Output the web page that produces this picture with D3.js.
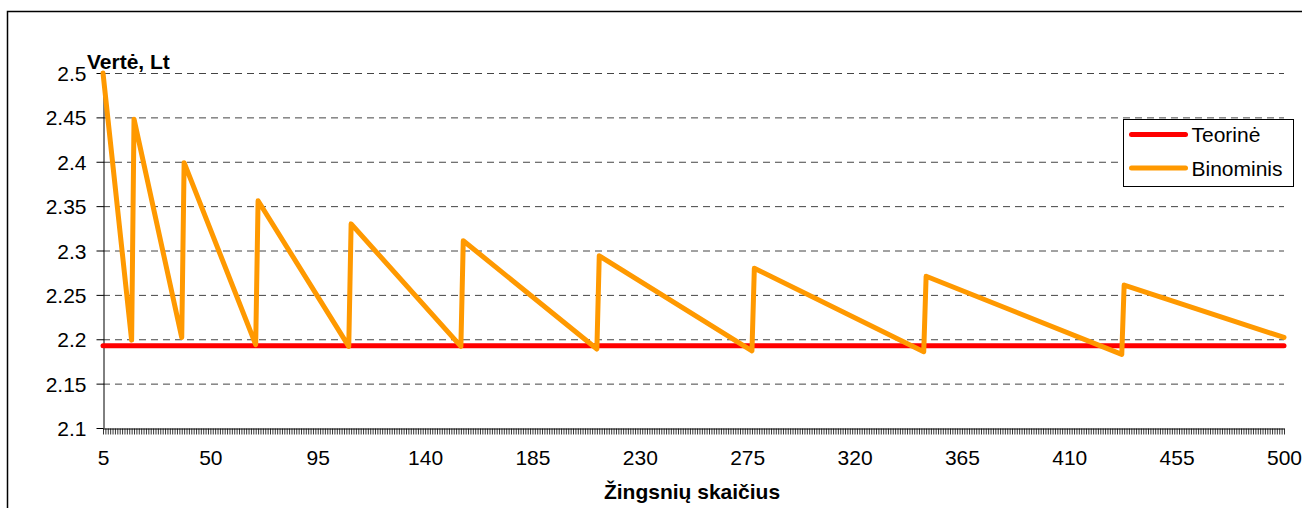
<!DOCTYPE html>
<html>
<head>
<meta charset="utf-8">
<script src="https://cdn.jsdelivr.net/npm/d3@7/dist/d3.min.js"></script>
<style>
  html, body { margin: 0; padding: 0; background: #fff; }
  svg { display: block; }
  text { font-family: "Liberation Sans", Arial, sans-serif; fill: #000; }
</style>
</head>
<body>
<svg id="chart" width="1302" height="508"></svg>
<script>
// Step counts where the binomial price changes direction, and the price there
const binomSteps  = [5, 17, 18, 38, 39, 69, 70, 108, 109, 155, 156, 212, 213, 277, 278, 349, 350, 432, 433, 500];
const binomValues = [2.500, 2.199, 2.448, 2.202, 2.399, 2.194, 2.356, 2.192, 2.330, 2.192, 2.311, 2.189, 2.294, 2.187, 2.280, 2.186, 2.271, 2.183, 2.261, 2.202];
// Theoretical (closed-form) price
const theoreticalValue = 2.1927;
const stepRange = [5, 500];
const yTicks = [2.1, 2.15, 2.2, 2.25, 2.3, 2.35, 2.4, 2.45, 2.5];
const xLabelEvery = 45;
const seriesNames = ["Teorinė", "Binominis"];
const seriesColors = ["#FF0000", "#FF9900"];

const FONT = "21px";
const svg = d3.select("#chart");
const plot = { left: 103, right: 1284, top: 73, bottom: 428 };

// Outer chart frame
svg.append("rect")
  .attr("x", 7.5).attr("y", 11.5)
  .attr("width", 1400).attr("height", 600)
  .attr("fill", "none").attr("stroke", "#000").attr("stroke-width", 1.5);

const x = d3.scaleLinear().domain(stepRange).range([plot.left, plot.right]);
const y = d3.scaleLinear().domain([2.1, 2.5]).range([plot.bottom, plot.top]);

// Dashed horizontal gridlines
svg.append("g")
  .selectAll("line")
  .data(yTicks.filter(v => v > 2.1))
  .join("line")
  .attr("x1", plot.left).attr("x2", plot.right)
  .attr("y1", d => y(d) + 0.5).attr("y2", d => y(d) + 0.5)
  .attr("stroke", "#444").attr("stroke-width", 1)
  .attr("stroke-dasharray", "7,5");

// Y axis
const yAxis = svg.append("g")
  .attr("transform", `translate(${plot.left + 0.5},0)`)
  .call(d3.axisLeft(y).tickValues(yTicks).tickSize(7).tickSizeOuter(0)
    .tickFormat(d => d3.format("")(+d.toFixed(2))));
yAxis.select(".domain").attr("stroke", "#000");
yAxis.selectAll(".tick line").attr("stroke", "#000");
yAxis.selectAll(".tick text")
  .attr("x", -17).attr("dy", "0.36em")
  .style("font-size", FONT);

// X axis: one tick per step, labelled every 45 steps
const allSteps = d3.range(stepRange[0], stepRange[1] + 1);
const xAxis = svg.append("g")
  .attr("transform", `translate(0,${plot.bottom + 0.5})`)
  .call(d3.axisBottom(x).tickValues(allSteps).tickSize(6).tickSizeOuter(0)
    .tickFormat(d => (d - stepRange[0]) % xLabelEvery === 0 ? d : ""));
xAxis.select(".domain").attr("stroke", "#000");
xAxis.selectAll(".tick line").attr("stroke", "#000").attr("stroke-width", 0.8);
xAxis.selectAll(".tick text")
  .attr("y", 22).attr("dy", "0.71em")
  .style("font-size", FONT);

// Theoretical value line
svg.append("line")
  .attr("x1", x(stepRange[0])).attr("x2", x(stepRange[1]))
  .attr("y1", y(theoreticalValue)).attr("y2", y(theoreticalValue))
  .attr("stroke", seriesColors[0]).attr("stroke-width", 5)
  .attr("stroke-linecap", "round");

// Binomial price line
const binomData = binomSteps.map((s, i) => [s, binomValues[i]]);
svg.append("path")
  .datum(binomData)
  .attr("fill", "none")
  .attr("stroke", seriesColors[1]).attr("stroke-width", 5)
  .attr("stroke-linejoin", "round").attr("stroke-linecap", "round")
  .attr("d", d3.line().x(d => x(d[0])).y(d => y(d[1])));

// Axis titles
svg.append("text")
  .attr("x", 87).attr("y", 69)
  .style("font-size", FONT).style("font-weight", "bold")
  .text("Vertė, Lt");
svg.append("text")
  .attr("x", 692).attr("y", 499)
  .attr("text-anchor", "middle")
  .style("font-size", FONT).style("font-weight", "bold")
  .text("Žingsnių skaičius");

// Legend
const legend = svg.append("g").attr("transform", "translate(1123.5,119.5)");
legend.append("rect")
  .attr("width", 170).attr("height", 67)
  .attr("fill", "#fff").attr("stroke", "#000").attr("stroke-width", 1);
seriesNames.forEach((name, i) => {
  const yy = 15 + i * 33.5;
  legend.append("line")
    .attr("x1", 8).attr("x2", 62).attr("y1", yy).attr("y2", yy)
    .attr("stroke", seriesColors[i]).attr("stroke-width", 5)
    .attr("stroke-linecap", "round");
  legend.append("text")
    .attr("x", 68).attr("y", yy).attr("dy", "0.36em")
    .style("font-size", FONT)
    .text(name);
});
</script>
</body>
</html>
